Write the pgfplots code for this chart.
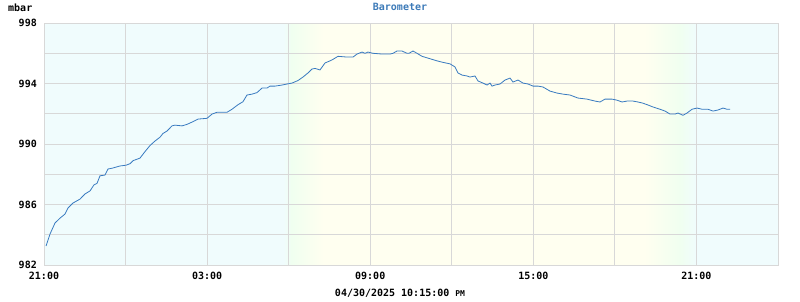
\documentclass[border=0pt]{standalone}
\usepackage{pgfplots}
\pgfplotsset{compat=1.18}
\usepackage{fontspec}
\newfontfamily\mono{DejaVu Sans Mono}
\definecolor{nightc}{RGB}{240,252,253}
\definecolor{dayc}{RGB}{255,255,240}
\definecolor{twic}{RGB}{240,255,240}
\definecolor{gridc}{RGB}{216,216,216}
\definecolor{linec}{RGB}{56,122,192}
\definecolor{titlec}{RGB}{60,122,184}
\newcommand{\lbl}{\mono\bfseries\fontsize{10bp}{12bp}\selectfont}
\begin{document}
\begin{tikzpicture}
\path (0,0) rectangle (800bp,300bp);
\begin{axis}[
  at={(44bp,36bp)}, anchor=south west,
  scale only axis, width=734bp, height=242bp,
  set layers=standard,
  xmin=0, xmax=27, ymin=982, ymax=998,
  xtick={0,3,...,27},
  xticklabels={21:00,,03:00,,09:00,,15:00,,21:00,,},
  ytick={982,984,...,998},
  yticklabels={982,,986,,990,,994,,998},
  major tick length=0pt,
  grid=major,
  grid style={draw=gridc, line width=1bp},
  axis line style={draw=gridc, line width=1bp},
  xticklabel style={font=\lbl, anchor=north, inner sep=0pt, yshift=-7bp},
  yticklabel style={font=\lbl, anchor=east, inner sep=0pt, xshift=-7bp},
]
\begin{pgfonlayer}{axis background}
\fill[nightc] (axis cs:0,982) rectangle (axis cs:8.8,998);
\fill[left color=nightc, right color=twic] (axis cs:8.8,982) rectangle (axis cs:9.1,998);
\fill[left color=twic, right color=dayc] (axis cs:9.1,982) rectangle (axis cs:10.3,998);
\fill[dayc] (axis cs:10.3,982) rectangle (axis cs:22.1,998);
\fill[left color=dayc, right color=twic] (axis cs:22.1,982) rectangle (axis cs:23.4,998);
\fill[left color=twic, right color=nightc] (axis cs:23.4,982) rectangle (axis cs:24.0,998);
\fill[nightc] (axis cs:24.0,982) rectangle (axis cs:27,998);
\end{pgfonlayer}
\addplot[linec, line width=0.8bp] coordinates {
(0.074,983.26) (0.221,984.05) (0.405,984.78) (0.589,985.1) (0.772,985.37)
(0.883,985.77) (1.067,986.1) (1.324,986.36) (1.508,986.7) (1.692,986.9)
(1.839,987.3) (1.950,987.4) (2.060,987.9) (2.244,987.95) (2.354,988.35)
(2.501,988.4) (2.796,988.55) (3.016,988.6) (3.164,988.7) (3.274,988.9)
(3.531,989.07) (3.715,989.5) (3.899,989.9) (4.083,990.2) (4.267,990.45)
(4.377,990.7) (4.525,990.86) (4.708,991.2) (4.819,991.25) (5.076,991.2)
(5.260,991.3) (5.444,991.45) (5.665,991.65) (5.996,991.7) (6.180,991.98)
(6.364,992.1) (6.732,992.1) (6.916,992.3) (7.136,992.6) (7.320,992.8)
(7.467,993.24) (7.651,993.3) (7.835,993.4) (8.019,993.7) (8.203,993.7)
(8.313,993.83) (8.497,993.83) (8.755,993.9) (8.939,993.97) (9.123,994.03)
(9.343,994.2) (9.527,994.43) (9.711,994.7) (9.858,994.96) (9.969,995.0)
(10.153,994.9) (10.337,995.36) (10.521,995.5) (10.631,995.6) (10.815,995.8)
(11.146,995.75) (11.367,995.75) (11.514,995.95) (11.698,996.08) (11.808,996.0)
(11.918,996.08) (12.102,996.0) (12.433,995.95) (12.728,995.95) (12.838,996.0)
(12.985,996.15) (13.169,996.15) (13.353,996.0) (13.426,996.0) (13.574,996.15)
(13.721,996.0) (13.905,995.8) (14.089,995.7) (14.273,995.6) (14.457,995.5)
(14.677,995.4) (14.935,995.3) (15.118,995.1) (15.229,994.7) (15.376,994.56)
(15.560,994.5) (15.670,994.43) (15.854,994.5) (15.965,994.17) (16.149,994.03)
(16.296,993.9) (16.406,994.03) (16.480,993.83) (16.590,993.9) (16.774,993.97)
(16.958,994.23) (17.142,994.36) (17.252,994.1) (17.436,994.23) (17.620,994.03)
(17.804,993.97) (17.988,993.83) (18.172,993.83) (18.356,993.77) (18.613,993.5)
(18.871,993.37) (19.092,993.3) (19.349,993.24) (19.643,993.04) (19.974,992.97)
(20.269,992.84) (20.453,992.78) (20.637,992.97) (20.894,992.97) (21.078,992.9)
(21.262,992.78) (21.446,992.84) (21.667,992.84) (21.850,992.78) (22.034,992.7)
(22.218,992.58) (22.402,992.45) (22.660,992.3) (22.844,992.18) (23.028,991.98)
(23.211,991.98) (23.322,992.05) (23.506,991.9) (23.653,992.05) (23.837,992.3)
(24.021,992.38) (24.205,992.3) (24.425,992.3) (24.609,992.18) (24.793,992.25)
(24.977,992.38) (25.124,992.3) (25.235,992.3)
};
\end{axis}
\node[font=\lbl, anchor=west, inner sep=0pt] at (8bp,293bp) {mbar};
\node[font=\lbl, text=titlec] at (400bp,294bp) {Barometer};
\node[font=\lbl] at (400bp,8bp) {04/30/2025 10:15:00 {\fontsize{8bp}{8bp}\selectfont PM}};
\end{tikzpicture}
\end{document}
